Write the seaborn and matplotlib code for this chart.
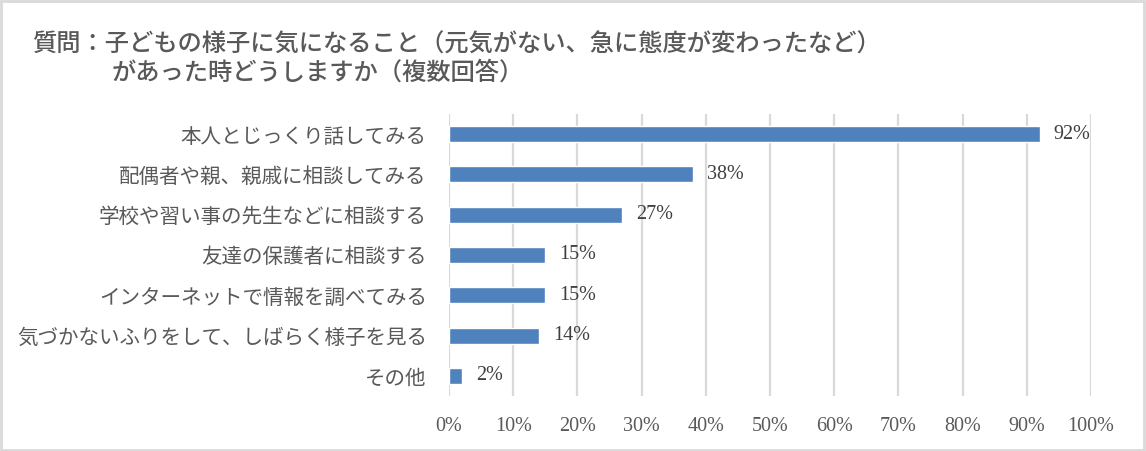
import matplotlib
matplotlib.use("Agg")
import matplotlib.pyplot as plt
from matplotlib.patches import Rectangle
from matplotlib.ticker import FuncFormatter
import seaborn as sns
import pandas as pd

# Data
categories = [
    "本人とじっくり話してみる",
    "配偶者や親、親戚に相談してみる",
    "学校や習い事の先生などに相談する",
    "友達の保護者に相談する",
    "インターネットで情報を調べてみる",
    "気づかないふりをして、しばらく様子を見る",
    "その他",
]
percent = [92, 38, 27, 15, 15, 14, 2]
x_ticks = [0, 10, 20, 30, 40, 50, 60, 70, 80, 90, 100]
title_line1 = "質問：子どもの様子に気になること（元気がない、急に態度が変わったなど）"
title_line2 = "があった時どうしますか（複数回答）"

df = pd.DataFrame({"category": categories, "percent": percent})

sns.set_style("white")
plt.rcParams["font.family"] = ["Noto Sans CJK JP", "DejaVu Sans"]

text_color = "#595959"
grid_color = "#d9d9d9"
bar_color = "#4f81bd"

fig = plt.figure(figsize=(11.46, 4.51), dpi=100)
ax = fig.add_axes([0.3918, 0.122, 0.5602, 0.6252])

sns.barplot(data=df, x="percent", y="category", orient="h", color=bar_color,
            saturation=1, width=0.4, ax=ax, zorder=3)

ax.set_xlim(0, 100)
ax.set_xticks(x_ticks)
ax.xaxis.set_major_formatter(FuncFormatter(lambda v, p: f"{v:.0f}%"))
for lab in ax.get_xticklabels():
    lab.set_family("Liberation Serif")
    lab.set_fontsize(14.5)
    lab.set_color(text_color)
ax.tick_params(axis="x", length=0, pad=15)
ax.tick_params(axis="y", length=0, pad=16, labelsize=14.8, labelcolor=text_color)
ax.grid(axis="x", color=grid_color, linewidth=1.6, zorder=0)
ax.grid(axis="y", visible=False)
for s in ax.spines.values():
    s.set_visible(False)
ax.set_xlabel("")
ax.set_ylabel("")

labels = ax.bar_label(ax.containers[0], labels=[f"{v}%" for v in percent], padding=10,
                      fontsize=14.5, color="#404040")
for t in labels:
    t.set_family("Liberation Serif")

fig.text(32 / 1146, 1 - 45 / 451, title_line1, fontsize=17.5, color=text_color,
         fontweight="medium", va="center", ha="left")
fig.text(112 / 1146, 1 - 73 / 451, title_line2, fontsize=17.5, color=text_color,
         fontweight="medium", va="center", ha="left")

fig.patches.append(Rectangle((0.001, 0.002), 0.997, 0.995, transform=fig.transFigure,
                             fill=False, edgecolor=grid_color, linewidth=2))

fig.savefig("out.png", dpi=100)
